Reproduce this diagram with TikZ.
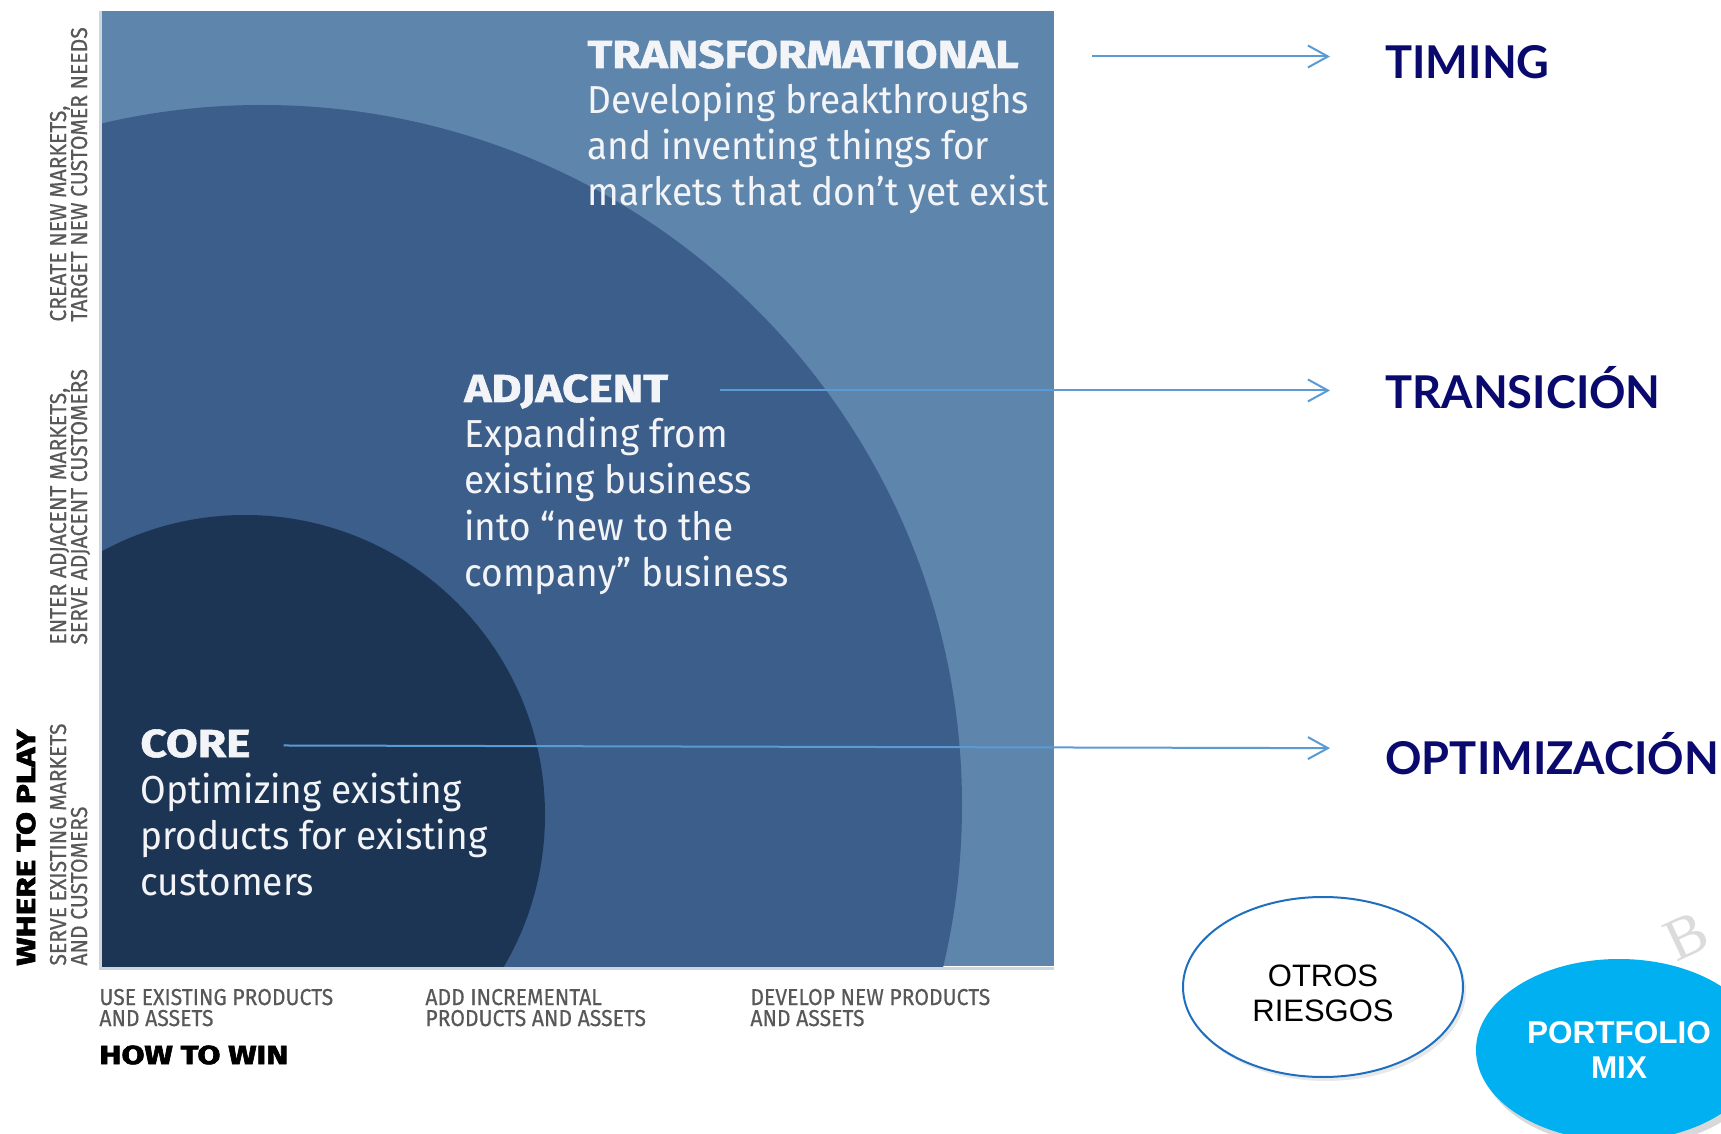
\documentclass[tikz,border=0pt]{standalone}
\usepackage{fontspec}
\usetikzlibrary{calc,arrows.meta,shapes.geometric,shadows}
\setmainfont{Fira Sans}
\newfontfamily\bodyf{Fira Sans}[FakeStretch=0.95]
\newfontfamily\headf{Fira Sans}[FakeStretch=1.18,FakeBold=1.5]
\newfontfamily\blkf{Fira Sans}[FakeStretch=1.28,FakeBold=2.5]
\newfontfamily\smallf{Fira Sans}[FakeStretch=0.92,FakeBold=0.4]
\newfontfamily\gillf{Lato}
\newfontfamily\arialf{Liberation Sans}
\newfontfamily\serifwm{Liberation Serif}
\definecolor{sqlight}{HTML}{5E85AB}
\definecolor{sqmid}{HTML}{3C5E8A}
\definecolor{sqdark}{HTML}{1D3554}
\definecolor{arrowc}{HTML}{5B9BD5}
\definecolor{navyc}{HTML}{0A0A6E}
\definecolor{axisgray}{HTML}{585858}
\definecolor{cyanfill}{HTML}{00B0F0}
\definecolor{ellborder}{HTML}{1F6FC0}
\definecolor{txtw}{HTML}{F2F4F7}
\definecolor{edgec}{HTML}{CDD5DD}
\tikzset{
  headtxt/.style={anchor=base west, inner sep=0pt, text=txtw, font=\headf\bfseries\fontsize{19.5}{23}\selectfont},
  bodytxt/.style={anchor=base west, inner sep=0pt, text=txtw, font=\bodyf\fontsize{19.5}{23}\selectfont},
  axislbl/.style={anchor=base west, inner sep=0pt, text=axisgray, font=\smallf\fontsize{11.5}{11}\selectfont},
  bigblk/.style={anchor=base west, inner sep=0pt, text=black, font=\blkf\bfseries\fontsize{13}{15}\selectfont},
  rlabel/.style={anchor=base west, inner sep=0pt, text=navyc, font=\gillf\bfseries\fontsize{22.6}{26}\selectfont},
  conn/.style={draw=arrowc, line width=1pt, -{Straight Barb[length=10pt,width=11pt]}},
  oval/.style={ellipse, inner sep=0pt, align=center}
}
\begin{document}
\begin{tikzpicture}[x=0.5pt,y=-0.5pt]
\useasboundingbox (0,0) rectangle (1721,1134);
\fill[white] (0,0) rectangle (1721,1134);
% matrix square
\fill[sqlight] (102,11) rectangle (1054,966);
\begin{scope}
  \clip (102,11) rectangle (1054,966);
  \fill[sqmid] (262,805) circle[radius=350pt];
  \fill[sqdark] (245,815) circle[radius=150pt];
\end{scope}
\draw[edgec, line width=1.5pt] (100,11) -- (100,968) -- (1054,968);

% transformational
\node[headtxt] (transH) at (587,68) {TRANSFORMATIONAL};
\node[bodytxt] (transB1) at (587,114) {Developing breakthroughs};
\node[bodytxt] (transB2) at (587,160) {and inventing things for};
\node[bodytxt] (transB3) at (587,206) {markets that don’t yet exist};
% adjacent
\node[headtxt] (adjH) at (464,402) {ADJACENT};
\node[bodytxt] (adjB1) at (464,448) {Expanding from};
\node[bodytxt] (adjB2) at (464,494) {existing business};
\node[bodytxt] (adjB3) at (464,540) {into “new to the};
\node[bodytxt] (adjB4) at (464,586) {company” business};
% core
\node[headtxt] (coreH) at (140,757) {CORE};
\node[bodytxt] (coreB1) at (140,803) {Optimizing existing};
\node[bodytxt] (coreB2) at (140,849) {products for existing};
\node[bodytxt] (coreB3) at (140,895) {customers};

% left axis labels
\node[bigblk, rotate=90] (wtp) at (35,966) {WHERE TO PLAY};
\node[axislbl, rotate=90] (l1a) at (66,966) {SERVE EXISTING MARKETS};
\node[axislbl, rotate=90] (l1b) at (87,966) {AND CUSTOMERS};
\node[axislbl, rotate=90] (l2a) at (66,645) {ENTER ADJACENT MARKETS,};
\node[axislbl, rotate=90] (l2b) at (87,645) {SERVE ADJACENT CUSTOMERS};
\node[axislbl, rotate=90] (l3a) at (66,322) {CREATE NEW MARKETS,};
\node[axislbl, rotate=90] (l3b) at (87,322) {TARGET NEW CUSTOMER NEEDS};

% bottom axis labels
\node[axislbl] (b1a) at (99,1005) {USE EXISTING PRODUCTS};
\node[axislbl] (b1b) at (99,1026) {AND ASSETS};
\node[axislbl] (b2a) at (425,1005) {ADD INCREMENTAL};
\node[axislbl] (b2b) at (425,1026) {PRODUCTS AND ASSETS};
\node[axislbl] (b3a) at (750,1005) {DEVELOP NEW PRODUCTS};
\node[axislbl] (b3b) at (750,1026) {AND ASSETS};
\node[bigblk] (htw) at (99,1064) {HOW TO WIN};

% right labels
\node[rlabel] (timing) at (1385,79) {TIMING};
\node[rlabel] (trans) at (1385,409) {TRANSICIÓN};
\node[rlabel] (optim) at (1385,774) {OPTIMIZACIÓN};

% connectors
\draw[conn] ($(transH.east)+(73,2)$) -- ($(transH.east -| timing.west)+(-55,2)$);
\draw[conn] ($(adjH.east)+(52,-1)$) -- ($(adjH.east -| trans.west)+(-55,-1)$);
\draw[conn] ($(coreH.east)+(33,2)$) -- ($(optim.west)+(-55,-5)$);

% watermark
\node[rotate=25, text=gray!28, inner sep=0pt, font=\serifwm\fontsize{30}{30}\selectfont] (wm) at (1686,936) {B};

% ovals
\node[oval, draw=ellborder, line width=1pt, fill=white, minimum width=140pt, minimum height=90pt,
      drop shadow={opacity=0.18, shadow xshift=1.5pt, shadow yshift=-2pt}] (otros) at (1323,987) {};
\node[align=center, inner sep=0pt, font=\arialf\fontsize{15.5}{17.5}\selectfont] (otrosT) at ($(otros.center)+(0,6)$) {OTROS\\RIESGOS};
\node[oval, fill=cyanfill, text=white, minimum width=143pt, minimum height=91pt,
      font=\arialf\bfseries\fontsize{15.75}{17.5}\selectfont,
      drop shadow={opacity=0.3, shadow xshift=2pt, shadow yshift=-3pt}] (port) at (1619,1050) {PORTFOLIO\\MIX};
\end{tikzpicture}
\end{document}
